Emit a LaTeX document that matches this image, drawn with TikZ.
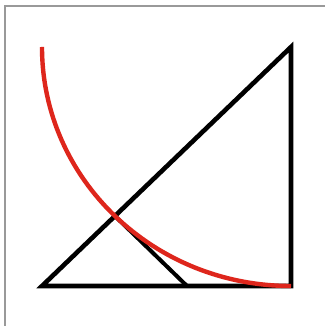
\documentclass[tikz,border=0pt]{standalone}
\definecolor{arcred}{RGB}{222,38,28}
\begin{document}
\begin{tikzpicture}[x=1pt,y=1pt,
  blackline/.style={line width=4.6pt,black,line cap=round,line join=miter},
  redarc/.style={line width=4.4pt,arcred,line cap=butt},
  frameline/.style={line width=1.6pt,gray!80}]
\useasboundingbox (0,0) rectangle (325,326);
\fill[white] (0,0) rectangle (325,326);
\draw[frameline] (5,0) -- (5,320) -- (325,320);
\coordinate (A) at (42,40);
\coordinate (B) at (291,40);
\coordinate (C) at (291,279);
\coordinate (S) at (42,279);
\coordinate (P) at (114.9,110);
\coordinate (Q) at (187,40);
\draw[blackline] (A) -- (B) -- (C) -- cycle;
\draw[blackline,line width=4pt] (P) -- (Q);
\draw[redarc] (S) arc[start angle=180,end angle=270,x radius=249,y radius=239];
\end{tikzpicture}
\end{document}
